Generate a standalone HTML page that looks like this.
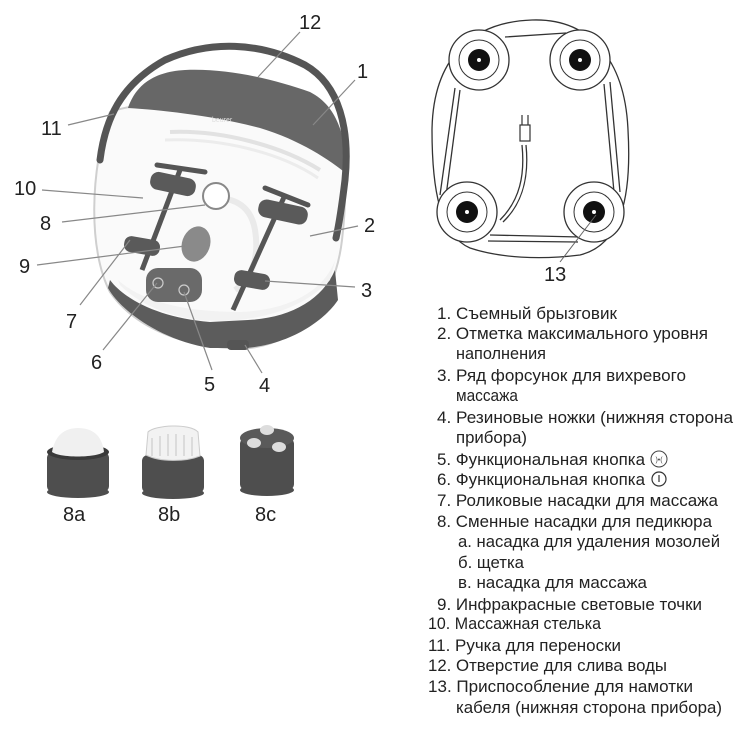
<!DOCTYPE html>
<html><head><meta charset="utf-8"><style>
html,body{margin:0;padding:0;background:#fff;}
svg{display:block;}
.lb{font-family:"Liberation Sans",sans-serif;font-size:20px;fill:#222;}
.tx{font-family:"Liberation Sans",sans-serif;font-size:16.5px;fill:#222;}
.ld{stroke:#888;stroke-width:1.2;fill:none;}
</style></head><body>
<svg width="748" height="732" viewBox="0 0 748 732" xmlns="http://www.w3.org/2000/svg">
<!-- main device -->
<!-- body bowl -->
<path d="M110,112 C90,170 88,250 110,292 C140,335 200,350 250,348 C300,342 335,300 342,240 C348,190 345,140 335,120 C300,95 160,95 110,112 Z" fill="#fafafa" stroke="#cfcfcf" stroke-width="2"/>
<!-- bottom dark band -->
<path d="M108,288 C120,310 160,340 210,348 L245,348 C290,345 325,320 338,300 L335,270 C322,300 290,318 248,320 L210,322 C160,318 125,300 110,280 Z" fill="#5c5c5c"/>
<path d="M120,285 C135,300 160,315 200,320 C250,324 300,312 330,280 L338,250 C330,290 290,310 240,312 C180,312 140,300 118,280 Z" fill="#f2f2f2"/>
<!-- feet -->
<rect x="227" y="340" width="22" height="10" rx="4" fill="#555"/>
<!-- splash guard -->
<path d="M128,108 C135,88 150,72 185,70 C230,68 275,80 310,92 C335,105 345,130 348,175 C330,160 300,140 260,128 C210,115 160,110 128,108 Z" fill="#676767"/>
<text x="212" y="122" font-family="Liberation Sans,sans-serif" font-size="7" fill="#ddd">beurer</text>
<!-- inner ribs -->
<path d="M170,132 C220,130 280,145 320,170" stroke="#e2e2e2" stroke-width="4" fill="none"/>
<path d="M165,140 C220,138 280,152 318,178" stroke="#ececec" stroke-width="3" fill="none"/>
<!-- handle -->
<path d="M100,160 C105,120 120,85 165,60 C210,40 260,42 305,65 C340,85 350,130 345,180 C342,205 340,220 336,238" stroke="#555" stroke-width="7" fill="none" stroke-linecap="round"/>
<!-- center hump -->
<path d="M205,200 C225,195 250,200 255,230 C260,260 250,280 235,290" stroke="#eaeaea" stroke-width="6" fill="none"/>
<!-- left roller bar -->
<line x1="157" y1="165" x2="205" y2="172" stroke="#555" stroke-width="5" stroke-linecap="round"/>
<line x1="180" y1="170" x2="142" y2="270" stroke="#555" stroke-width="5"/>
<rect x="150" y="175" width="46" height="18" rx="8" fill="#5a5a5a" transform="rotate(12 173 184)"/>
<rect x="124" y="238" width="36" height="16" rx="7" fill="#5a5a5a" transform="rotate(10 142 246)"/>
<!-- right roller bar -->
<line x1="265" y1="188" x2="308" y2="205" stroke="#555" stroke-width="5" stroke-linecap="round"/>
<line x1="285" y1="195" x2="233" y2="310" stroke="#555" stroke-width="5"/>
<rect x="258" y="203" width="50" height="18" rx="8" fill="#5a5a5a" transform="rotate(12 283 212)"/>
<rect x="234" y="272" width="36" height="16" rx="7" fill="#5a5a5a" transform="rotate(10 252 280)"/>
<!-- attachment 8 -->
<circle cx="216" cy="196" r="13" fill="#fff" stroke="#888" stroke-width="2"/>
<!-- infrared 9 -->
<ellipse cx="196" cy="244" rx="14" ry="18" fill="#8a8a8a" transform="rotate(20 196 244)"/>
<!-- control panel -->
<rect x="146" y="268" width="56" height="34" rx="12" fill="#6a6a6a"/>
<circle cx="158" cy="283" r="5" fill="none" stroke="#ccc" stroke-width="1.2"/>
<circle cx="184" cy="290" r="5" fill="none" stroke="#ccc" stroke-width="1.2"/>
<!-- leader lines -->
<line class="ld" x1="300" y1="32" x2="258" y2="77"/>
<line class="ld" x1="355" y1="80" x2="313" y2="125"/>
<line class="ld" x1="68" y1="125" x2="114" y2="114"/>
<line class="ld" x1="42" y1="190" x2="143" y2="198"/>
<line class="ld" x1="62" y1="222" x2="205" y2="205"/>
<line class="ld" x1="358" y1="226" x2="310" y2="236"/>
<line class="ld" x1="37" y1="265" x2="185" y2="246"/>
<line class="ld" x1="355" y1="287" x2="265" y2="281"/>
<line class="ld" x1="80" y1="305" x2="130" y2="240"/>
<line class="ld" x1="103" y1="350" x2="157" y2="283"/>
<line class="ld" x1="212" y1="370" x2="184" y2="292"/>
<line class="ld" x1="262" y1="373" x2="245" y2="345"/>
<!-- labels -->
<text class="lb" x="299" y="29">12</text>
<text class="lb" x="357" y="78">1</text>
<text class="lb" x="41" y="135">11</text>
<text class="lb" x="14" y="195">10</text>
<text class="lb" x="40" y="230">8</text>
<text class="lb" x="364" y="232">2</text>
<text class="lb" x="19" y="273">9</text>
<text class="lb" x="361" y="297">3</text>
<text class="lb" x="66" y="328">7</text>
<text class="lb" x="91" y="369">6</text>
<text class="lb" x="204" y="391">5</text>
<text class="lb" x="259" y="392">4</text>

<!-- accessories -->
<g>
<rect x="47" y="452" width="62" height="40" rx="6" fill="#4e4e4e"/>
<ellipse cx="78" cy="492" rx="31" ry="6" fill="#4e4e4e"/>
<ellipse cx="78" cy="452" rx="31" ry="8" fill="#3a3a3a"/>
<path d="M52,452 C55,435 65,428 78,428 C92,428 102,435 104,452 C95,458 60,458 52,452 Z" fill="#f0f0f0"/>
<text class="lb" x="63" y="521">8a</text>
</g>
<g>
<rect x="142" y="455" width="62" height="38" rx="6" fill="#4e4e4e"/>
<ellipse cx="173" cy="493" rx="31" ry="6" fill="#4e4e4e"/>
<path d="M146,455 L148,432 C155,425 190,423 198,432 L200,456 C185,462 160,462 146,455 Z" fill="#f2f2f2" stroke="#ccc" stroke-width="1"/>
<path d="M152,438 v18 M160,436 v20 M168,434 v22 M176,434 v22 M184,435 v21 M192,437 v19" stroke="#ccc" stroke-width="1.2"/>
<text class="lb" x="158" y="521">8b</text>
</g>
<g>
<rect x="240" y="438" width="54" height="52" rx="6" fill="#4e4e4e"/>
<ellipse cx="267" cy="490" rx="27" ry="6" fill="#4e4e4e"/>
<ellipse cx="267" cy="438" rx="27" ry="10" fill="#5a5a5a"/>
<ellipse cx="267" cy="430" rx="7" ry="5" fill="#ddd"/>
<ellipse cx="254" cy="443" rx="7" ry="5" fill="#ddd"/>
<ellipse cx="279" cy="447" rx="7" ry="5" fill="#ddd"/>
<text class="lb" x="255" y="521">8c</text>
</g>

<!-- bottom view -->
<g fill="none" stroke="#333" stroke-width="1.3">
<path d="M532,20 C590,18 625,60 628,130 C632,200 620,245 580,255 C540,260 500,258 470,248 C440,235 432,190 432,130 C433,60 470,22 532,20 Z"/>
<path d="M505,37 L566,33 M455,88 L440,195 M460,90 L446,196 M610,82 L620,192 M604,84 L614,192 M490,235 L580,237 M488,241 L578,242"/>
<path d="M522,145 C525,175 520,200 500,220"/>
<path d="M526,145 C529,175 524,202 503,222"/>
</g>
<g stroke="#333" stroke-width="1.2">
<rect x="520" y="125" width="10" height="16" fill="#fff"/>
<line x1="522" y1="115" x2="522" y2="125"/><line x1="528" y1="115" x2="528" y2="125"/>
</g>
<g>
<circle cx="479" cy="60" r="30" fill="#fff" stroke="#333" stroke-width="1.3"/>
<circle cx="479" cy="60" r="20" fill="none" stroke="#333"/>
<circle cx="479" cy="60" r="11" fill="#111"/>
<circle cx="479" cy="60" r="2" fill="#fff"/>
<circle cx="580" cy="60" r="30" fill="#fff" stroke="#333" stroke-width="1.3"/>
<circle cx="580" cy="60" r="20" fill="none" stroke="#333"/>
<circle cx="580" cy="60" r="11" fill="#111"/>
<circle cx="580" cy="60" r="2" fill="#fff"/>
<circle cx="467" cy="212" r="30" fill="#fff" stroke="#333" stroke-width="1.3"/>
<circle cx="467" cy="212" r="20" fill="none" stroke="#333"/>
<circle cx="467" cy="212" r="11" fill="#111"/>
<circle cx="467" cy="212" r="2" fill="#fff"/>
<circle cx="594" cy="212" r="30" fill="#fff" stroke="#333" stroke-width="1.3"/>
<circle cx="594" cy="212" r="20" fill="none" stroke="#333"/>
<circle cx="594" cy="212" r="11" fill="#111"/>
<circle cx="594" cy="212" r="2" fill="#fff"/>
</g>
<line x1="560" y1="262" x2="596" y2="215" stroke="#666" stroke-width="1"/>
<text class="lb" x="544" y="281">13</text>

<!-- legend -->
<text class="tx" x="437" y="319" textLength="180" lengthAdjust="spacingAndGlyphs">1. Съемный брызговик</text>
<text class="tx" x="437" y="339" textLength="271" lengthAdjust="spacingAndGlyphs">2. Отметка максимального уровня</text>
<text class="tx" x="456" y="359" textLength="90" lengthAdjust="spacingAndGlyphs">наполнения</text>
<text class="tx" x="437" y="381" textLength="249" lengthAdjust="spacingAndGlyphs">3. Ряд форсунок для вихревого</text>
<text class="tx" x="456" y="401" textLength="62" lengthAdjust="spacingAndGlyphs">массажа</text>
<text class="tx" x="437" y="423" textLength="296" lengthAdjust="spacingAndGlyphs">4. Резиновые ножки (нижняя сторона</text>
<text class="tx" x="456" y="443" textLength="71" lengthAdjust="spacingAndGlyphs">прибора)</text>
<text class="tx" x="437" y="465" textLength="208" lengthAdjust="spacingAndGlyphs">5. Функциональная кнопка</text>
<circle cx="659" cy="459" r="8" fill="none" stroke="#444" stroke-width="1"/>
<text x="659" y="462" font-family="Liberation Sans,sans-serif" font-size="7" fill="#444" text-anchor="middle">)•(</text>
<text class="tx" x="437" y="485" textLength="208" lengthAdjust="spacingAndGlyphs">6. Функциональная кнопка</text>
<circle cx="659" cy="479" r="7" fill="none" stroke="#333" stroke-width="1.2"/>
<line x1="659" y1="475" x2="659" y2="482" stroke="#333" stroke-width="1.2"/>
<text class="tx" x="437" y="506" textLength="281" lengthAdjust="spacingAndGlyphs">7. Роликовые насадки для массажа</text>
<text class="tx" x="437" y="527" textLength="275" lengthAdjust="spacingAndGlyphs">8. Сменные насадки для педикюра</text>
<text class="tx" x="458" y="547" textLength="262" lengthAdjust="spacingAndGlyphs">а. насадка для удаления мозолей</text>
<text class="tx" x="458" y="568" textLength="66" lengthAdjust="spacingAndGlyphs">б. щетка</text>
<text class="tx" x="458" y="588" textLength="189" lengthAdjust="spacingAndGlyphs">в. насадка для массажа</text>
<text class="tx" x="437" y="610" textLength="265" lengthAdjust="spacingAndGlyphs">9. Инфракрасные световые точки</text>
<text class="tx" x="428" y="629" textLength="173" lengthAdjust="spacingAndGlyphs">10. Массажная стелька</text>
<text class="tx" x="428" y="651" textLength="193" lengthAdjust="spacingAndGlyphs">11. Ручка для переноски</text>
<text class="tx" x="428" y="671" textLength="239" lengthAdjust="spacingAndGlyphs">12. Отверстие для слива воды</text>
<text class="tx" x="428" y="692" textLength="265" lengthAdjust="spacingAndGlyphs">13. Приспособление для намотки</text>
<text class="tx" x="456" y="713" textLength="266" lengthAdjust="spacingAndGlyphs">кабеля (нижняя сторона прибора)</text>
</svg>
</body></html>
